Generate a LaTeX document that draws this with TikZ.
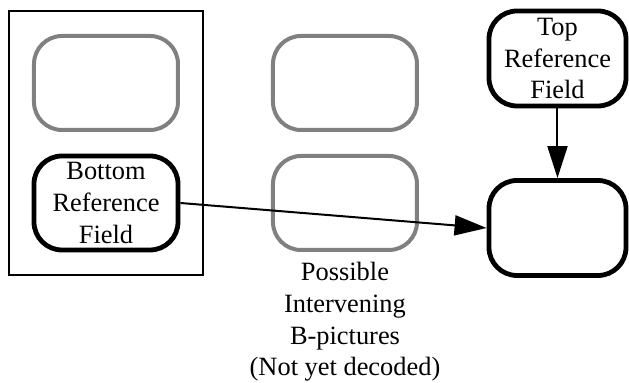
\documentclass[tikz,border=0pt]{standalone}
\usepackage{fontspec}
\setmainfont{Liberation Serif}
\usetikzlibrary{positioning,fit,arrows.meta}

\tikzset{
  field/.style={draw, line width=2.4pt, rounded corners=14pt, minimum width=72pt,
    minimum height=47pt, align=center, inner sep=0pt},
  skipped/.style={field, draw=gray, line width=2pt},
  bfield/.style={field, minimum width=68.5pt, minimum height=47.5pt},
}

\begin{document}
\begin{tikzpicture}[node distance=60pt,on grid,font=\rmfamily\fontsize{13.2pt}{15.8pt}\selectfont,
    >={Triangle[length=16pt,width=10pt]}]
   \useasboundingbox (-53pt,41.5pt) rectangle (261.5pt,-150pt);
   \node[skipped] (p1) {};
   \node[field] (bot) [below=of p1] {Bottom\\Reference\\Field};
   \node[skipped] (p2) [right=119.5pt of p1] {};
   \node[skipped] (p3) [below=of p2] {};
   \node[bfield] (top) [above right=12.25pt and 106.25pt of p2] {Top\\Reference\\Field};
   \node[bfield] (cur) [below=84.75pt of top] {};
   \node[draw, line width=1pt, fit=(p1)(bot), inner sep=11.5pt] (frame) {};
   \node[align=center] (note) [below=59.5pt of p3] {Possible\\Intervening\\B-pictures\\(Not yet decoded)};
    \path[->, line width=1pt]
    (bot.east) edge (cur.west)
    (top) edge (cur);
\end{tikzpicture}
\end{document}
